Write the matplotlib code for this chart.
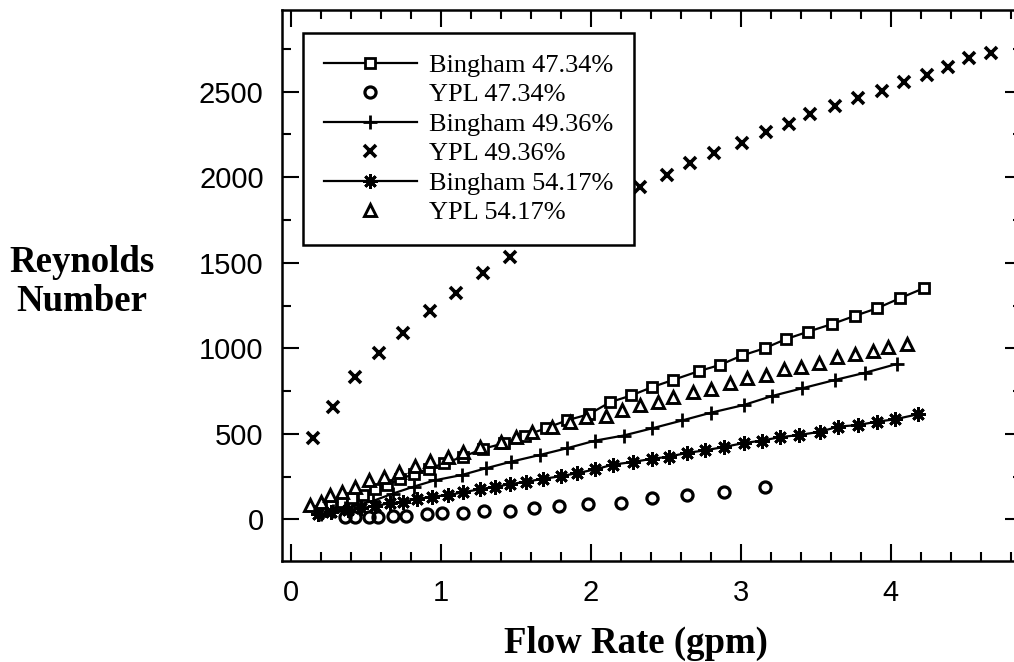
import matplotlib
matplotlib.use("Agg")
import matplotlib.pyplot as plt
from matplotlib.ticker import MultipleLocator

# Bingham 47.34%
b47_x = [0.2, 0.27, 0.34, 0.41, 0.48, 0.56, 0.64, 0.73, 0.82, 0.92, 1.02, 1.15, 1.28, 1.42, 1.56,
         1.70, 1.84, 1.99, 2.13, 2.27, 2.41, 2.55, 2.72, 2.86, 3.01, 3.16, 3.30, 3.45, 3.61, 3.76,
         3.91, 4.06, 4.22]
b47_y = [50, 75, 100, 125, 145, 175, 200, 235, 265, 295, 327, 366, 412, 444, 488, 532, 578, 615,
         685, 724, 773, 815, 866, 902, 958, 1000, 1053, 1097, 1142, 1189, 1234, 1292, 1351]

# YPL 47.34%
y47_x = [0.36, 0.43, 0.52, 0.58, 0.68, 0.77, 0.91, 1.01, 1.15, 1.29, 1.46, 1.62, 1.79, 1.98, 2.20,
         2.41, 2.64, 2.89, 3.16]
y47_y = [15, 15, 15, 15, 19, 19, 33, 35, 38, 46, 46, 64, 76, 92, 94, 123, 142, 157, 187]

# Bingham 49.36%
b49_x = [0.2, 0.28, 0.36, 0.45, 0.55, 0.68, 0.82, 0.96, 1.14, 1.30, 1.47, 1.66, 1.84, 2.03, 2.22,
         2.41, 2.61, 2.80, 3.02, 3.21, 3.41, 3.63, 3.83, 4.04]
b49_y = [30, 48, 65, 85, 108, 150, 191, 228, 259, 298, 337, 376, 415, 460, 490, 532, 578, 623, 668,
         721, 766, 815, 857, 908]

# YPL 49.36%
y49_x = [0.15, 0.28, 0.43, 0.59, 0.75, 0.93, 1.10, 1.28, 1.46, 2.33, 2.51, 2.66, 2.82, 3.01, 3.17,
         3.32, 3.46, 3.63, 3.78, 3.94, 4.09, 4.24, 4.38, 4.52, 4.67]
y49_y = [477, 658, 830, 971, 1091, 1218, 1325, 1438, 1532, 1945, 2013, 2082, 2140, 2202, 2263, 2310,
         2368, 2417, 2466, 2505, 2559, 2598, 2647, 2696, 2725]

# Bingham 54.17%
b54_x = [0.18, 0.27, 0.38, 0.47, 0.56, 0.66, 0.75, 0.84, 0.94, 1.05, 1.15, 1.26, 1.36, 1.46, 1.57,
         1.68, 1.80, 1.91, 2.03, 2.15, 2.28, 2.41, 2.52, 2.64, 2.76, 2.89, 3.02, 3.14, 3.26, 3.39,
         3.53, 3.65, 3.78, 3.91, 4.03, 4.18]
b54_y = [30, 40, 55, 65, 78, 94, 103, 119, 132, 142, 158, 176, 190, 205, 220, 236, 252, 270, 292,
         320, 335, 354, 366, 388, 403, 423, 446, 460, 480, 493, 512, 542, 551, 571, 585, 614]

# YPL 54.17%
y54_x = [0.13, 0.2, 0.26, 0.34, 0.43, 0.52, 0.62, 0.72, 0.83, 0.93, 1.05, 1.15, 1.26, 1.40, 1.50,
         1.61, 1.74, 1.86, 1.97, 2.10, 2.21, 2.33, 2.45, 2.55, 2.68, 2.80, 2.93, 3.04, 3.17, 3.29,
         3.40, 3.52, 3.64, 3.76, 3.88, 3.98, 4.11]
y54_y = [84, 103, 142, 161, 191, 230, 246, 278, 312, 343, 362, 395, 425, 454, 483, 512, 542, 571,
         600, 604, 637, 670, 684, 715, 745, 763, 797, 827, 844, 877, 892, 916, 947, 967, 984, 1009,
         1025]

serif = "Liberation Serif"
sans = "Liberation Sans"

fig = plt.figure(figsize=(10.14, 6.62), dpi=100)
ax = fig.add_axes([0.2778, 0.153, 0.730, 0.832])

ax.plot(b47_x, b47_y, color="black", lw=1.6, marker="s", ms=7.5, mfc="white", mec="black", mew=2,
        label="Bingham 47.34%")
ax.plot(y47_x, y47_y, ls="none", marker="o", ms=8, mfc="none", mec="black", mew=2.3,
        label="YPL 47.34%")
ax.plot(b49_x, b49_y, color="black", lw=1.6, marker="+", ms=10.5, mec="black", mew=2,
        label="Bingham 49.36%")
ax.plot(y49_x, y49_y, ls="none", marker="x", ms=8.5, mec="black", mew=2.6,
        label="YPL 49.36%")
ax.plot(b54_x, b54_y, color="black", lw=1.6, marker=(8, 2, 0), ms=10.5, mec="black", mew=2,
        label="Bingham 54.17%")
ax.plot(y54_x, y54_y, ls="none", marker="^", ms=8, mfc="white", mec="black", mew=2.1,
        label="YPL 54.17%")

ax.set_xlim(-0.06, 4.875)
ax.set_ylim(-242, 2978)
ax.xaxis.set_major_locator(MultipleLocator(1))
ax.xaxis.set_minor_locator(MultipleLocator(0.2))
ax.yaxis.set_major_locator(MultipleLocator(500))
ax.yaxis.set_minor_locator(MultipleLocator(250))
ax.tick_params(which="both", direction="in", top=True, right=True, width=1.5, color="black")
ax.tick_params(which="major", length=12, pad=13, labelsize=21)
ax.tick_params(which="minor", length=6.5)
for lab in ax.get_xticklabels() + ax.get_yticklabels():
    lab.set_fontfamily(sans)
for sp in ax.spines.values():
    sp.set_linewidth(1.8)

ax.set_xlabel("Flow Rate (gpm)", fontfamily=serif, fontweight="bold", fontsize=26.5)
ax.xaxis.set_label_coords(0.478, -0.118)
ax.set_ylabel("Reynolds\nNumber", fontfamily=serif, fontweight="bold", fontsize=26.5,
              rotation=0, ha="center", va="center", linespacing=1.12)
ax.yaxis.set_label_coords(-0.27, 0.506)

leg = ax.legend(loc="upper left", bbox_to_anchor=(303 / 1014, 1 - 32.7 / 662),
                bbox_transform=fig.transFigure, borderaxespad=0, numpoints=1,
                prop={"family": serif, "size": 19}, handlelength=3.55, handletextpad=0.45,
                labelspacing=0.23, borderpad=0.78, fancybox=False, framealpha=1)
leg.get_frame().set_edgecolor("black")
leg.get_frame().set_linewidth(1.8)

fig.savefig("out.png", dpi=100)
